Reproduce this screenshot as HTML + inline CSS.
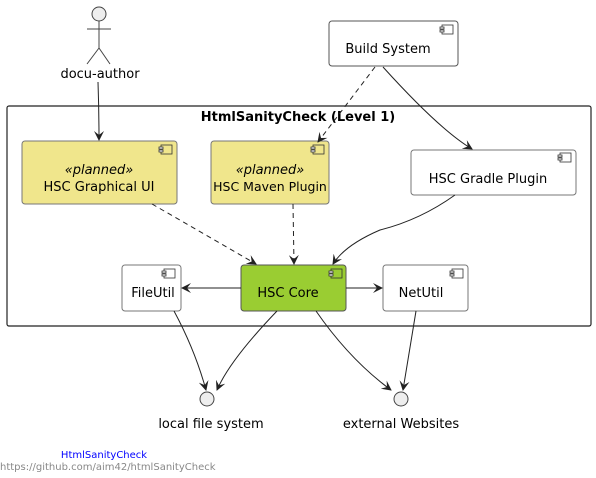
<!DOCTYPE html>
<html><head><meta charset="utf-8"><style>
html,body{margin:0;padding:0;background:#fff;width:596px;height:478px;overflow:hidden}
text{font-family:"DejaVu Sans","Liberation Sans",sans-serif}
</style></head><body>
<svg width="596" height="478" viewBox="0 0 596 478" xmlns="http://www.w3.org/2000/svg">
<defs>
<marker id="a" markerWidth="10" markerHeight="10" refX="9" refY="5" orient="auto" markerUnits="userSpaceOnUse">
<path d="M0,0 L10,5 L0,10 L4,5 Z" fill="#222"/></marker>
<g id="ic"><rect x="0" y="0" width="11" height="9" fill="none" stroke="#333" stroke-width="0.8"/><rect x="-2" y="2" width="4" height="2" fill="#fff" stroke="#333" stroke-width="0.8"/><rect x="-2" y="5" width="4" height="2" fill="#fff" stroke="#333" stroke-width="0.8"/></g>
</defs>
<circle cx="99" cy="14" r="7" fill="#eee" stroke="#444"/>
<path d="M99,21 V48 M87,29 H111 M99,48 L87,64 M99,48 L110,64" stroke="#444" fill="none"/>
<text x="100" y="78" font-size="13" text-anchor="middle">docu-author</text>
<rect x="329" y="21" width="129" height="45" rx="3" fill="#fff" stroke="#555"/>
<use href="#ic" x="442" y="25"/>
<text x="388" y="53" font-size="13" text-anchor="middle">Build System</text>
<rect x="7" y="106" width="584" height="220" rx="2" fill="none" stroke="#222" stroke-width="1.2"/>
<text x="298" y="121" font-size="13" font-weight="bold" text-anchor="middle">HtmlSanityCheck (Level 1)</text>
<rect x="22" y="141" width="155" height="63" rx="3" fill="#f0e68c" stroke="#777"/>
<use href="#ic" x="161" y="145"/>
<text x="99" y="174" font-size="13" font-style="italic" text-anchor="middle">«planned»</text>
<text x="99" y="191" font-size="13" text-anchor="middle">HSC Graphical UI</text>
<rect x="211" y="141" width="118" height="63" rx="3" fill="#f0e68c" stroke="#777"/>
<use href="#ic" x="313" y="145"/>
<text x="270" y="174" font-size="13" font-style="italic" text-anchor="middle">«planned»</text>
<text x="270" y="191" font-size="12.5" text-anchor="middle">HSC Maven Plugin</text>
<rect x="411" y="150" width="165" height="45" rx="3" fill="#fff" stroke="#777"/>
<use href="#ic" x="560" y="153"/>
<text x="488" y="183" font-size="13" text-anchor="middle">HSC Gradle Plugin</text>
<rect x="122" y="265" width="59" height="46" rx="3" fill="#fff" stroke="#777"/>
<use href="#ic" x="164" y="269"/>
<text x="153" y="297" font-size="13" text-anchor="middle">FileUtil</text>
<rect x="241" y="265" width="105" height="46" rx="3" fill="#9acd32" stroke="#555"/>
<use href="#ic" x="331" y="269"/>
<text x="288" y="297" font-size="13" text-anchor="middle">HSC Core</text>
<rect x="383" y="265" width="85" height="46" rx="3" fill="#fff" stroke="#777"/>
<use href="#ic" x="452" y="269"/>
<text x="421" y="297" font-size="13" text-anchor="middle">NetUtil</text>
<text x="211" y="428" font-size="13" text-anchor="middle">local file system</text>
<text x="401" y="428" font-size="13" text-anchor="middle">external Websites</text>
<g stroke="#222" fill="none" stroke-width="1">
<path d="M98,82 Q99,110 99,140" marker-end="url(#a)"/>
<path d="M375,67 L318,142" stroke-dasharray="5,4" marker-end="url(#a)"/>
<path d="M383,67 Q440,130 472,149" marker-end="url(#a)"/>
<path d="M152,204 L256,264" stroke-dasharray="5,4" marker-end="url(#a)"/>
<path d="M293,204 L294,264" stroke-dasharray="5,4" marker-end="url(#a)"/>
<path d="M455,195 Q420,220 380,230 Q345,245 333,264" marker-end="url(#a)"/>
<path d="M241,288 L182,288" marker-end="url(#a)"/>
<path d="M346,288 L382,288" marker-end="url(#a)"/>
<path d="M174,311 Q195,350 206,390" marker-end="url(#a)"/>
<path d="M277,311 Q230,360 217,390" marker-end="url(#a)"/>
<path d="M316,311 Q350,360 391,390" marker-end="url(#a)"/>
<path d="M416,311 Q408,360 403,390" marker-end="url(#a)"/>
</g>
<circle cx="207" cy="399" r="7" fill="#eee" stroke="#444"/>
<circle cx="401" cy="399" r="7" fill="#eee" stroke="#444"/>
<text x="104" y="458" font-size="10" fill="#0000ff" text-anchor="middle">HtmlSanityCheck</text>
<text x="0" y="470" font-size="10" fill="#888">https://github.com/aim42/htmlSanityCheck</text>
</svg>
</body></html>
